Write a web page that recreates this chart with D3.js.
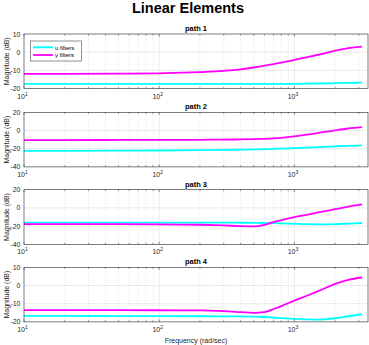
<!DOCTYPE html>
<html>
<head>
<meta charset="utf-8">
<script src="https://cdn.jsdelivr.net/npm/d3@7"></script>
<style>
  body { margin: 0; background: #fff; }
  text { font-family: "Liberation Sans", Arial, sans-serif; }
</style>
</head>
<body>
<div class="main"></div>
<script>
// frequency points (rad/sec)
let freq = [10, 20, 50, 100, 200, 300, 400, 500, 600, 700, 800, 1000, 1250, 1500, 2000, 2500, 3162];

let titles = ['path 1', 'path 2', 'path 3', 'path 4'];

let uFilters = [
  [-17.4, -17.4, -17.4, -17.4, -17.4, -17.4, -17.4, -17.4, -17.4, -17.4, -17.4, -17.35, -17.3, -17.2, -17.0, -16.85, -16.7],
  [-22.5, -22.4, -22.2, -22.0, -21.6, -21.3, -21.0, -20.8, -20.5, -20.3, -20.0, -19.4, -18.8, -18.3, -17.4, -16.8, -16.4],
  [-16.2, -16.2, -16.2, -16.2, -16.2, -16.2, -16.3, -16.4, -16.6, -16.8, -17.1, -17.5, -17.9, -18.0, -17.8, -17.2, -16.6],
  [-16.7, -16.7, -16.8, -16.8, -16.9, -17.0, -17.0, -17.1, -17.3, -17.6, -17.9, -18.3, -18.6, -18.7, -18.0, -16.9, -15.8]
];

let yFilters = [
  [-11.9, -11.9, -11.8, -11.6, -11.0, -10.3, -9.4, -8.4, -7.4, -6.5, -5.7, -4.2, -2.7, -1.4, 0.8, 2.2, 3.1],
  [-10.5, -10.5, -10.4, -10.3, -10.2, -10.0, -9.8, -9.5, -9.1, -8.6, -8.0, -6.5, -4.5, -2.7, 0.2, 2.2, 3.7],
  [-17.8, -17.8, -17.9, -18.0, -18.5, -19.3, -20.0, -20.3, -18.6, -15.6, -13.5, -10.2, -7.4, -5.0, -1.4, 1.4, 3.9],
  [-13.5, -13.5, -13.5, -13.6, -13.7, -14.1, -14.6, -15.0, -14.6, -12.9, -11.3, -8.3, -5.5, -3.1, 0.9, 3.1, 4.4]
];

let yTicks = [
  [-20, -10, 0, 10],
  [-40, -20, 0, 20],
  [-40, -20, 0, 20],
  [-20, -10, 0, 10]
];

let xDomain = [10, 3500];
let majorX = [10, 100, 1000];
let minorX = [20, 30, 40, 50, 60, 70, 80, 90, 200, 300, 400, 500, 600, 700, 800, 900, 2000, 3000];

let layout = {
  width: 369,
  height: 345,
  left: 24,
  right: 368,
  tops: [34, 112.3, 189.7, 267.3],
  plotH: 54.6
};

let svg = d3.select('.main').append('svg')
  .attr('width', layout.width)
  .attr('height', layout.height);

let x = d3.scaleLog().domain(xDomain).range([layout.left, layout.right]);

svg.append('text')
  .attr('x', 188).attr('y', 13)
  .attr('text-anchor', 'middle')
  .attr('font-size', 14.5).attr('font-weight', 'bold')
  .attr('fill', '#000')
  .text('Linear Elements');

titles.forEach((title, i) => {
  let top = layout.tops[i];
  let bottom = top + layout.plotH;
  let ticks = yTicks[i];
  let y = d3.scaleLinear().domain([ticks[0], ticks[ticks.length - 1]]).range([bottom, top]);
  let g = svg.append('g');

  g.append('rect')
    .attr('x', layout.left).attr('y', top)
    .attr('width', layout.right - layout.left).attr('height', layout.plotH)
    .attr('fill', '#fff');

  // grid
  g.selectAll('.minor').data(minorX).enter().append('line')
    .attr('x1', d => x(d)).attr('x2', d => x(d))
    .attr('y1', top).attr('y2', bottom)
    .attr('stroke', '#d8d8d8').attr('stroke-width', 0.6)
    .attr('stroke-dasharray', '1,1.5');
  g.selectAll('.majx').data(majorX.slice(1)).enter().append('line')
    .attr('x1', d => x(d)).attr('x2', d => x(d))
    .attr('y1', top).attr('y2', bottom)
    .attr('stroke', '#e2e2e2').attr('stroke-width', 0.7);
  g.selectAll('.majy').data(ticks.slice(1, -1)).enter().append('line')
    .attr('x1', layout.left).attr('x2', layout.right)
    .attr('y1', d => y(d)).attr('y2', d => y(d))
    .attr('stroke', '#e2e2e2').attr('stroke-width', 0.7);

  // lines
  let line = d3.line()
    .x((d, j) => x(freq[j]))
    .y(d => y(d))
    .curve(d3.curveMonotoneX);

  g.append('path').datum(uFilters[i])
    .attr('d', line).attr('fill', 'none')
    .attr('stroke', '#00ffff').attr('stroke-width', 1.8);
  g.append('path').datum(yFilters[i])
    .attr('d', line).attr('fill', 'none')
    .attr('stroke', '#ff00ff').attr('stroke-width', 1.8);

  // box
  g.append('rect')
    .attr('x', layout.left).attr('y', top)
    .attr('width', layout.right - layout.left).attr('height', layout.plotH)
    .attr('fill', 'none').attr('stroke', '#262626').attr('stroke-width', 0.6);

  // ticks inside
  g.selectAll('.tx').data(majorX.concat(minorX)).enter().append('line')
    .attr('x1', d => x(d)).attr('x2', d => x(d))
    .attr('y1', bottom).attr('y2', d => bottom - (majorX.includes(d) ? 2.5 : 1.5))
    .attr('stroke', '#262626').attr('stroke-width', 0.5);
  g.selectAll('.tx2').data(majorX.concat(minorX)).enter().append('line')
    .attr('x1', d => x(d)).attr('x2', d => x(d))
    .attr('y1', top).attr('y2', d => top + (majorX.includes(d) ? 2.5 : 1.5))
    .attr('stroke', '#262626').attr('stroke-width', 0.5);

  // y tick labels
  g.selectAll('.yl').data(ticks).enter().append('text')
    .attr('x', 20.5).attr('y', d => y(d) + 2.5)
    .attr('text-anchor', 'end')
    .attr('font-size', 7).attr('fill', '#262626')
    .text(d => d);

  // x tick labels 10^n
  majorX.forEach(d => {
    let t = g.append('text')
      .attr('x', x(d) - 1.5).attr('y', bottom + 10)
      .attr('text-anchor', 'middle')
      .attr('font-size', 7).attr('fill', '#262626');
    t.append('tspan').text('10');
    t.append('tspan').attr('dy', -3).attr('font-size', 5).text(Math.round(Math.log10(d)));
  });

  g.append('text')
    .attr('x', 196).attr('y', top - 3)
    .attr('text-anchor', 'middle')
    .attr('font-size', 7.5).attr('font-weight', 'bold')
    .attr('fill', '#000')
    .text(title);

  g.append('text')
    .attr('transform', `translate(9,${top + layout.plotH / 2}) rotate(-90)`)
    .attr('text-anchor', 'middle')
    .attr('font-size', 7).attr('fill', '#262626')
    .text('Magnitude (dB)');
});

svg.append('text')
  .attr('x', 196).attr('y', 343)
  .attr('text-anchor', 'middle')
  .attr('font-size', 7).attr('fill', '#262626')
  .text('Frequency (rad/sec)');

// legend
let legend = svg.append('g');
legend.append('rect')
  .attr('x', 30.5).attr('y', 41).attr('width', 51).attr('height', 20)
  .attr('fill', '#fff').attr('stroke', '#262626').attr('stroke-width', 0.5);
let legendItems = [
  { label: 'u filters', color: '#00ffff' },
  { label: 'y filters', color: '#ff00ff' }
];
legendItems.forEach((item, k) => {
  let ly = 47.3 + k * 7.7;
  legend.append('line')
    .attr('x1', 33).attr('x2', 53).attr('y1', ly).attr('y2', ly)
    .attr('stroke', item.color).attr('stroke-width', 1.8);
  legend.append('text')
    .attr('x', 55).attr('y', ly + 2.3)
    .attr('font-size', 6).attr('fill', '#000')
    .text(item.label);
});
</script>
</body>
</html>
